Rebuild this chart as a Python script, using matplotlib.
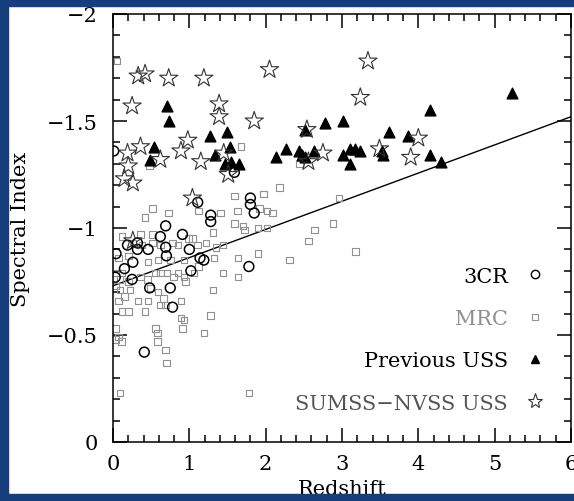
import matplotlib
matplotlib.use("Agg")
import matplotlib.pyplot as plt
from matplotlib.lines import Line2D
from matplotlib.patches import Rectangle
from matplotlib.ticker import MultipleLocator

# 3CR radio galaxies
z_3cr = [0.01, 1.59, 1.11, 1.28, 1.28, 1.80, 1.80, 1.85, 0.69, 0.91, 0.62, 0.32,
         0.19, 0.32, 0.46, 0.69, 1.00, 1.14, 1.19, 0.04, 0.70, 0.26, 0.15, 1.02,
         0.03, 0.25, 0.48, 0.75, 0.78, 1.78, 0.41]
a_3cr = [-1.36, -1.26, -1.12, -1.06, -1.03, -1.14, -1.11, -1.07, -1.01, -0.97, -0.96, -0.93,
         -0.92, -0.90, -0.90, -0.91, -0.90, -0.86, -0.85, -0.88, -0.87, -0.84, -0.81, -0.80,
         -0.77, -0.76, -0.72, -0.72, -0.63, -0.82, -0.42]

# MRC sources
z_mrc = [0.05, 0.48, 1.68, 2.44, 2.18, 1.97, 1.59, 2.96, 0.52, 0.73, 0.42, 1.12,
         1.41, 1.63, 1.92, 2.02, 2.09, 1.31, 1.59, 1.70, 1.72, 1.90, 2.02, 2.88,
         2.64, 2.56, 0.12, 0.36, 0.52, 0.26, 0.38, 0.52, 0.62, 0.78, 0.85, 0.99,
         1.04, 1.11, 1.22, 1.35, 1.44, 3.18, 1.90, 1.64, 2.31, 1.64, 0.07, 0.20,
         0.46, 0.59, 0.75, 0.93, 1.32, 1.12, 1.44, 0.03, 0.12, 0.09, 0.03, 0.20,
         0.36, 0.45, 0.56, 0.62, 0.71, 0.85, 0.79, 0.93, 1.06, 0.09, 0.22, 0.15,
         0.49, 0.59, 0.66, 0.07, 0.33, 0.46, 0.62, 0.69, 0.89, 0.95, 1.31, 1.28,
         0.89, 0.93, 0.20, 0.42, 0.12, 0.03, 0.07, 0.03, 0.56, 0.58, 0.91, 1.19,
         0.58, 0.69, 0.70, 0.11, 0.09, 1.78]
a_mrc = [-1.78, -1.29, -1.38, -1.30, -1.19, -1.16, -1.15, -1.14, -1.09, -1.07, -1.05, -1.08,
         -1.07, -1.08, -1.09, -1.08, -1.07, -0.98, -1.02, -1.01, -0.99, -1.00, -1.00, -1.02,
         -0.99, -0.94, -0.96, -0.97, -0.97, -0.93, -0.92, -0.93, -0.92, -0.93, -0.92, -0.95,
         -0.95, -0.92, -0.93, -0.91, -0.92, -0.89, -0.88, -0.86, -0.85, -0.77, -0.86, -0.87,
         -0.84, -0.85, -0.85, -0.85, -0.86, -0.82, -0.79, -0.79, -0.79, -0.76, -0.73, -0.75,
         -0.77, -0.76, -0.79, -0.79, -0.79, -0.79, -0.77, -0.77, -0.79, -0.71, -0.71, -0.68,
         -0.72, -0.70, -0.67, -0.66, -0.66, -0.66, -0.64, -0.64, -0.66, -0.75, -0.71, -0.59,
         -0.58, -0.57, -0.61, -0.61, -0.61, -0.53, -0.49, -0.48, -0.53, -0.51, -0.53, -0.51,
         -0.47, -0.43, -0.37, -0.47, -0.23, -0.23]

# previously known USS radio galaxies
z_uss = [0.71, 0.73, 0.54, 0.48, 1.27, 1.49, 1.53, 1.33, 1.47, 1.55, 1.65, 2.14,
         2.27, 2.44, 2.47, 2.51, 2.63, 2.51, 2.78, 3.01, 3.01, 3.11, 3.17, 3.24,
         3.11, 3.52, 3.54, 3.62, 3.87, 4.15, 4.15, 4.30, 5.23]
a_uss = [-1.57, -1.50, -1.38, -1.32, -1.43, -1.45, -1.38, -1.34, -1.30, -1.31, -1.30, -1.33,
         -1.37, -1.36, -1.34, -1.33, -1.36, -1.46, -1.49, -1.50, -1.34, -1.37, -1.37, -1.36,
         -1.30, -1.36, -1.34, -1.45, -1.43, -1.55, -1.34, -1.31, -1.63]

# SUMSS-NVSS USS sample
z_sn = [0.33, 0.42, 0.73, 1.19, 2.05, 3.34, 0.25, 1.39, 1.39, 3.24, 1.85, 2.54,
        0.36, 0.19, 0.20, 0.15, 0.26, 0.62, 0.89, 0.98, 1.15, 1.51, 1.04, 0.26,
        2.75, 2.56, 3.49, 4.00, 3.90, 1.45]
a_sn = [-1.71, -1.72, -1.70, -1.70, -1.74, -1.78, -1.57, -1.58, -1.52, -1.61, -1.50, -1.46,
        -1.38, -1.35, -1.29, -1.23, -1.21, -1.32, -1.36, -1.41, -1.31, -1.25, -1.14, -0.94,
        -1.35, -1.31, -1.37, -1.42, -1.33, -1.35]

# linear fit alpha = a + b z
fit_z = [0.0, 6.0]
fit_a = [-0.73, -1.52]

W, H = 574, 502
fig = plt.figure(figsize=(W / 100, H / 100), dpi=100)
fig.patch.set_facecolor("white")
plt.rcParams["font.family"] = "DejaVu Serif"

ax = fig.add_axes([113 / W, 1 - 443 / H, 458 / W, 428 / H])
ax.set_xlim(0, 6)
ax.set_ylim(0, -2)

ax.scatter(z_mrc, a_mrc, s=22, marker="s", facecolors="none", edgecolors="#909090", linewidths=0.8, zorder=2)
ax.scatter(z_3cr, a_3cr, s=50, marker="o", facecolors="none", edgecolors="black", linewidths=1.1, zorder=3)
ax.scatter(z_uss, a_uss, s=60, marker="^", color="black", zorder=4)
ax.scatter(z_sn, a_sn, s=190, marker="*", facecolors="none", edgecolors="#333333", linewidths=0.8, zorder=5)
ax.plot(fit_z, fit_a, color="black", lw=1.0, zorder=1)

ax.xaxis.set_major_locator(MultipleLocator(1))
ax.xaxis.set_minor_locator(MultipleLocator(0.2))
ax.yaxis.set_major_locator(MultipleLocator(0.5))
ax.yaxis.set_minor_locator(MultipleLocator(0.1))
ax.tick_params(which="both", direction="in", top=True, right=True, width=1.1, labelsize=15)
ax.tick_params(which="major", length=10)
ax.tick_params(which="minor", length=5)
ax.tick_params(axis="y", which="major", pad=11)
ax.tick_params(axis="x", which="major", pad=9)
for s in ax.spines.values():
    s.set_linewidth(1.1)
ax.set_yticks([-2, -1.5, -1, -0.5, 0])
ax.set_yticklabels(["\u22122", "\u22121.5", "\u22121", "\u22120.5", "0"])

ax.set_xlabel("Redshift", fontsize=15, labelpad=4)
ax.set_ylabel("Spectral Index", fontsize=15)
ax.yaxis.set_label_coords(-83 / 458, 0.5)

handles = [
    Line2D([], [], ls="none", marker="o", ms=6, mfc="none", mec="black", mew=1.0),
    Line2D([], [], ls="none", marker="s", ms=5, mfc="none", mec="#909090", mew=0.8),
    Line2D([], [], ls="none", marker="^", ms=6, color="black"),
    Line2D([], [], ls="none", marker="*", ms=11, mfc="none", mec="#333333", mew=0.8),
]
labels = ["3CR", "MRC", "Previous USS", "SUMSS\u2212NVSS USS"]
ax.legend(handles, labels, loc="lower right", bbox_to_anchor=(0.985, 0.025),
          frameon=False, markerfirst=False, fontsize=15, labelspacing=1.12,
          handlelength=1.0, handletextpad=0.8,
          labelcolor=["black", "#909090", "black", "#555555"])

# dark blue slide border
blue = "#163d7c"
for x0, y0, w, h in [(0, 0, 8, H), (0, 0, W, 7), (0, 495, W, 7)]:
    fig.add_artist(Rectangle((x0 / W, 1 - (y0 + h) / H), w / W, h / H,
                             transform=fig.transFigure, color=blue, zorder=10))

fig.savefig("out.png", dpi=100)
